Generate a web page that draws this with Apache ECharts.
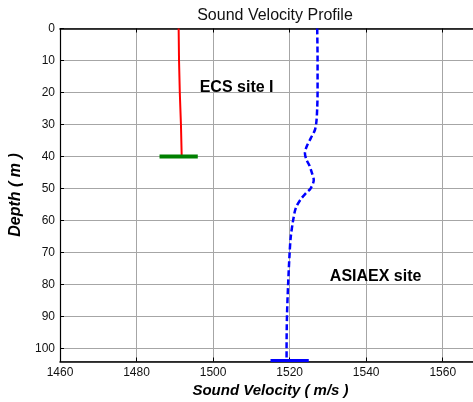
<!DOCTYPE html>
<html><head><meta charset="utf-8">
<script src="https://cdn.jsdelivr.net/npm/echarts@6/dist/echarts.min.js"></script>
<style>html,body{margin:0;padding:0;background:#fff}#c{width:473px;height:402px}</style>
</head><body><div id="c"></div>
<script>
// ECS site I profile
const ecsDepth = [0, 10, 20, 30, 40];
const ecsVel = [1491.0, 1491.1, 1491.3, 1491.6, 1491.8];
// ECS bottom marker
const ecsBottomVel = [1486, 1496];
const ecsBottomDepth = [40, 40];
// ASIAEX site profile
const asiDepth = [0, 10, 20, 25, 29, 31.7, 34.3, 37, 39, 41, 42.6, 45, 47.3, 49.9, 51.5, 53.5, 56.1, 60, 65, 70, 80, 90, 100, 103.7];
const asiVel = [1527.2, 1527.3, 1527.3, 1527.2, 1527.0, 1526.6, 1525.5, 1524.4, 1524.0, 1524.4, 1525.1, 1525.8, 1526.3, 1525.5, 1524.2, 1522.8, 1521.6, 1520.9, 1520.3, 1520.0, 1519.6, 1519.3, 1519.2, 1519.2];
// ASIAEX bottom marker
const asiBottomVel = [1515, 1525];
const asiBottomDepth = [103.7, 103.7];
// annotations
const notes = [{text: 'ECS site I', vel: 1496.5, depth: 18.6}, {text: 'ASIAEX site', vel: 1530.5, depth: 77.5}];
const xTicks = {min: 1460, max: 1570, interval: 20};
const yTicks = {min: 0, max: 104, interval: 10};

const zip = (a, b) => a.map((v, i) => [v, b[i]]);
const font = 'Arial, "Liberation Sans", sans-serif';
const chart = echarts.init(document.getElementById('c'), null, {renderer: 'canvas'});
const gridLine = {show: true, lineStyle: {color: '#a6a6a6', width: 1}};
chart.setOption({
  animation: false,
  title: {text: 'Sound Velocity Profile', left: 270, textAlign: 'center', top: 3,
    textStyle: {fontFamily: font, fontSize: 16, fontWeight: 'normal', color: '#111'}},
  grid: {left: 60, top: 28.5, width: 421, height: 333, containLabel: false, outerBoundsMode: 'none'},
  xAxis: [{
    type: 'value', position: 'bottom', min: xTicks.min, max: xTicks.max, interval: xTicks.interval,
    name: 'Sound Velocity ( m/s )', nameLocation: 'middle', nameGap: 21,
    nameTextStyle: {fontFamily: font, fontSize: 15, fontWeight: 'bold', fontStyle: 'italic', color: '#000'},
    axisLine: {show: true, onZero: false, lineStyle: {color: '#000', width: 1.5}},
    axisTick: {show: true, inside: true, length: 4, lineStyle: {color: '#000'}},
    axisLabel: {fontFamily: font, fontSize: 12, color: '#111', margin: 5, showMaxLabel: false, formatter: v => String(v)},
    splitLine: gridLine
  }, {
    type: 'value', position: 'top', min: xTicks.min, max: xTicks.max, interval: xTicks.interval,
    axisLine: {show: true, onZero: false, lineStyle: {color: '#000', width: 1.5}},
    axisTick: {show: true, inside: true, length: 4, lineStyle: {color: '#000'}},
    axisLabel: {show: false}, splitLine: {show: false}
  }],
  yAxis: [{
    type: 'value', inverse: true, min: yTicks.min, max: yTicks.max, interval: yTicks.interval,
    name: 'Depth ( m )', nameLocation: 'middle', nameGap: 35, nameRotate: 90,
    nameTextStyle: {fontFamily: font, fontSize: 16, fontWeight: 'bold', fontStyle: 'italic', color: '#000'},
    axisLine: {show: true, onZero: false, lineStyle: {color: '#000', width: 1.2}},
    axisTick: {show: true, inside: true, length: 4, lineStyle: {color: '#000'}},
    axisLabel: {fontFamily: font, fontSize: 12, color: '#111', margin: 5, showMaxLabel: false, formatter: v => String(v)},
    splitLine: gridLine
  }],
  series: [
    {type: 'line', data: zip(ecsVel, ecsDepth), showSymbol: false, symbol: 'none',
      lineStyle: {color: '#ff0000', width: 2}, z: 3},
    {type: 'line', data: zip(ecsBottomVel, ecsBottomDepth), showSymbol: false, symbol: 'none',
      lineStyle: {color: '#008000', width: 4}, z: 4},
    {type: 'line', data: zip(asiVel, asiDepth), showSymbol: false, symbol: 'none', smooth: 0.3,
      lineStyle: {color: '#0000ff', width: 2.5, type: [6, 3]}, z: 3},
    {type: 'line', data: zip(asiBottomVel, asiBottomDepth), showSymbol: false, symbol: 'none',
      lineStyle: {color: '#0000ff', width: 3}, z: 4, clip: false},
    {type: 'scatter', symbolSize: 0, itemStyle: {opacity: 1},
      data: notes.map(n => ({value: [n.vel, n.depth], name: n.text})),
      label: {show: true, position: 'right', distance: 0, formatter: p => p.name, opacity: 1,
        fontFamily: font, fontSize: 16, fontWeight: 'bold', color: '#000'}, z: 5}
  ]
});
</script></body></html>
